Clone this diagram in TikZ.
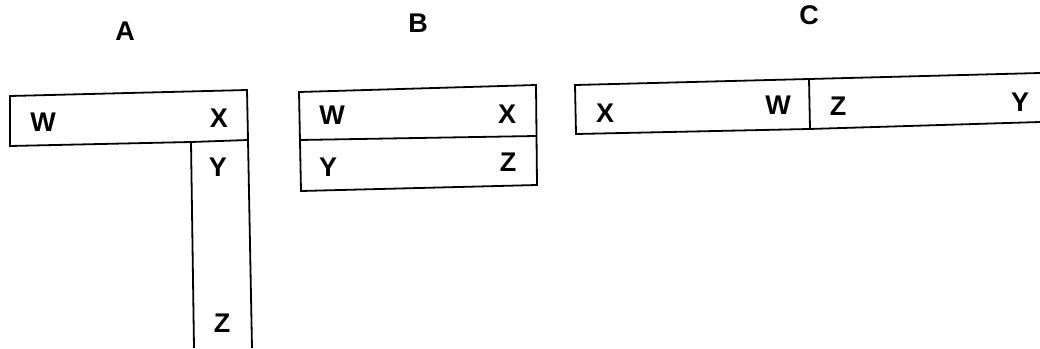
\documentclass[tikz,border=0pt]{standalone}
\usepackage{fontspec}
\setmainfont{Liberation Sans}
\begin{document}
\begin{tikzpicture}[x=1pt,y=-1pt,
  edge/.style={line width=1.8pt,line join=miter},
  lbl/.style={font=\fontsize{27}{27}\selectfont\bfseries,inner sep=0pt},
  ttl/.style={font=\fontsize{27}{27}\selectfont\bfseries,inner sep=0pt}]
\useasboundingbox[fill=white] (0,0) rectangle (1040,348);
% titles
\node[ttl] (tA) at (125,31) {A};
\node[ttl] (tB) at (418,23) {B};
\node[ttl] (tC) at (809,15) {C};
% A
\draw[edge] (10,96) -- (247,90) -- (248,140) -- (191,142) -- (10,146) -- cycle;
\draw[edge] (191,142) -- (194,348);
\draw[edge] (248,140) -- (252,348);
\node[lbl] (aW) at (43,122) {W};
\node[lbl] (aX) at (219,118) {X};
\node[lbl] (aY) at (218,167) {Y};
\node[lbl] (aZ) at (222,323) {Z};
% B
\draw[edge] (299,92) -- (536,85) -- (537,185) -- (301,191) -- cycle;
\draw[edge] (299,140) -- (536,136);
\node[lbl] (bW) at (332,115) {W};
\node[lbl] (bX) at (507,114) {X};
\node[lbl] (bY) at (328,167) {Y};
\node[lbl] (bZ) at (508,162) {Z};
% C
\draw[edge] (1040,73) -- (809,79) -- (575,85) -- (576,134) -- (809,129) -- (1040,122);
\draw[edge] (809,79) -- (810,129);
\node[lbl] (cX) at (605,113) {X};
\node[lbl] (cW) at (778,105) {W};
\node[lbl] (cZ) at (838,106) {Z};
\node[lbl] (cY) at (1020,102) {Y};
\end{tikzpicture}
\end{document}
